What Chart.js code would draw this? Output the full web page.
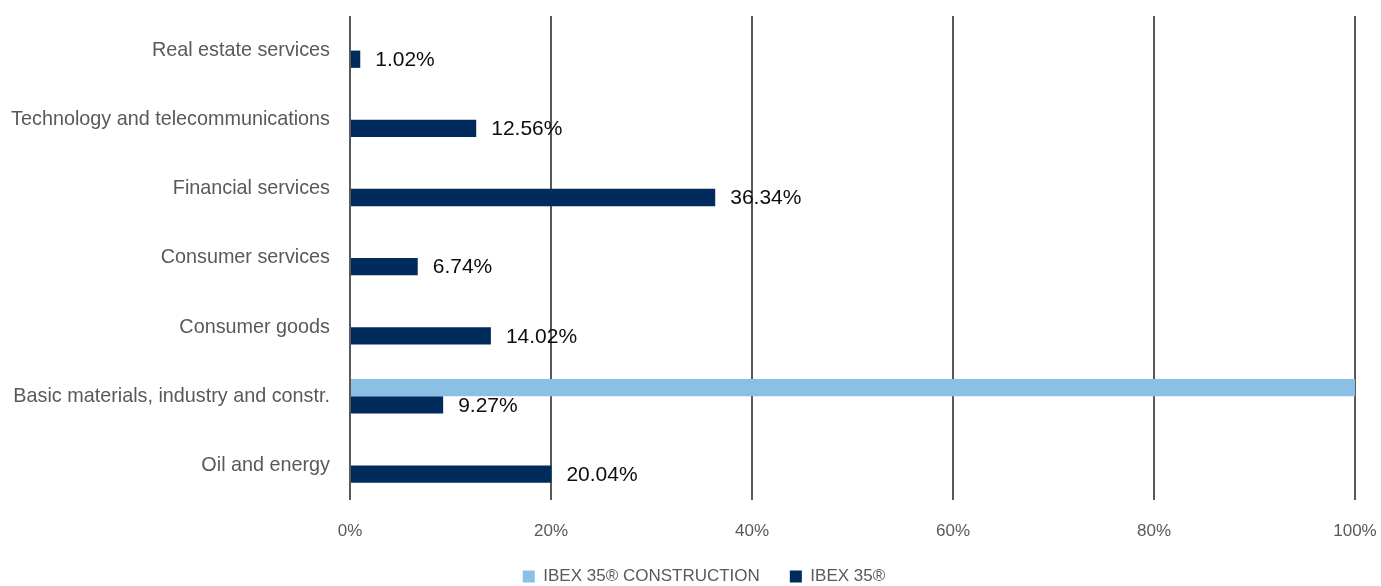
<!DOCTYPE html>
<html>
<head>
<meta charset="utf-8">
<script src="https://cdn.jsdelivr.net/npm/chart.js@4/dist/chart.umd.min.js"></script>
<style>
  html, body { margin: 0; padding: 0; background: #ffffff; }
  #wrap { width: 1381px; height: 586px; position: relative; }
</style>
</head>
<body>
<div id="wrap"><canvas id="c" width="1381" height="586"></canvas></div>
<script>
const categories = [
  'Real estate services',
  'Technology and telecommunications',
  'Financial services',
  'Consumer services',
  'Consumer goods',
  'Basic materials, industry and constr.',
  'Oil and energy'
];
const constructionValues = [0, 0, 0, 0, 0, 100, 0];
const ibexValues = [1.02, 12.56, 36.34, 6.74, 14.02, 9.27, 20.04];
const seriesNames = ['IBEX 35® CONSTRUCTION', 'IBEX 35®'];
const xTicks = [0, 20, 40, 60, 80, 100];

const FONT = "'Liberation Sans', Arial, sans-serif";

const valueLabels = {
  id: 'valueLabels',
  afterDatasetsDraw(chart) {
    const ctx = chart.ctx;
    const meta = chart.getDatasetMeta(1);
    ctx.save();
    ctx.font = '21px ' + FONT;
    ctx.fillStyle = '#0d0d0d';
    ctx.textAlign = 'left';
    ctx.textBaseline = 'middle';
    meta.data.forEach((bar, i) => {
      const v = chart.data.datasets[1].data[i];
      ctx.fillText(v.toFixed(2) + '%', bar.x + 15, bar.y + 1);
    });
    ctx.restore();
  }
};

// place the legend centre where the reference has it
const LEGEND_CENTER_X = 704;
const legendShift = {
  id: 'legendShift',
  afterLayout(chart) {
    const lg = chart.legend;
    if (!lg) return;
    const shift = LEGEND_CENTER_X - (lg.left + lg.right) / 2;
    lg.left += shift;
    lg.right += shift;
  }
};

new Chart(document.getElementById('c'), {
  type: 'bar',
  data: {
    labels: categories,
    datasets: [
      {
        label: seriesNames[0],
        data: constructionValues,
        backgroundColor: '#89c0e3',
        borderWidth: 0,
        categoryPercentage: 0.5,
        barPercentage: 1.0
      },
      {
        label: seriesNames[1],
        data: ibexValues,
        backgroundColor: '#002b5c',
        borderWidth: 0,
        categoryPercentage: 0.5,
        barPercentage: 1.0
      }
    ]
  },
  options: {
    indexAxis: 'y',
    responsive: false,
    animation: false,
    devicePixelRatio: 1,
    layout: { padding: { top: 16, right: 26, bottom: -9, left: 0 } },
    scales: {
      x: {
        min: 0,
        max: 100,
        afterBuildTicks(scale) { scale.ticks = xTicks.map(v => ({ value: v })); },
        afterFit(scale) {
          scale.height = 38;
          scale.paddingLeft = 0; scale.paddingRight = 0;
        },
        grid: { color: '#595959', lineWidth: 2, drawTicks: false },
        border: { display: false },
        ticks: {
          padding: 21,
          color: '#595959',
          font: { family: FONT, size: 17 },
          callback: v => v + '%'
        }
      },
      y: {
        afterFit(scale) {
          scale.width = 350;
          scale.paddingTop = 0; scale.paddingBottom = 0;
        },
        grid: { display: false, drawTicks: false },
        border: { display: false },
        ticks: {
          padding: 20,
          color: '#595959',
          font: { family: FONT, size: 19.8 }
        }
      }
    },
    plugins: {
      legend: {
        position: 'bottom',
        labels: {
          boxWidth: 12,
          boxHeight: 12,
          padding: 30,
          color: '#595959',
          font: { family: FONT, size: 17 }
        }
      },
      tooltip: { enabled: false }
    }
  },
  plugins: [valueLabels, legendShift]
});
</script>
</body>
</html>
